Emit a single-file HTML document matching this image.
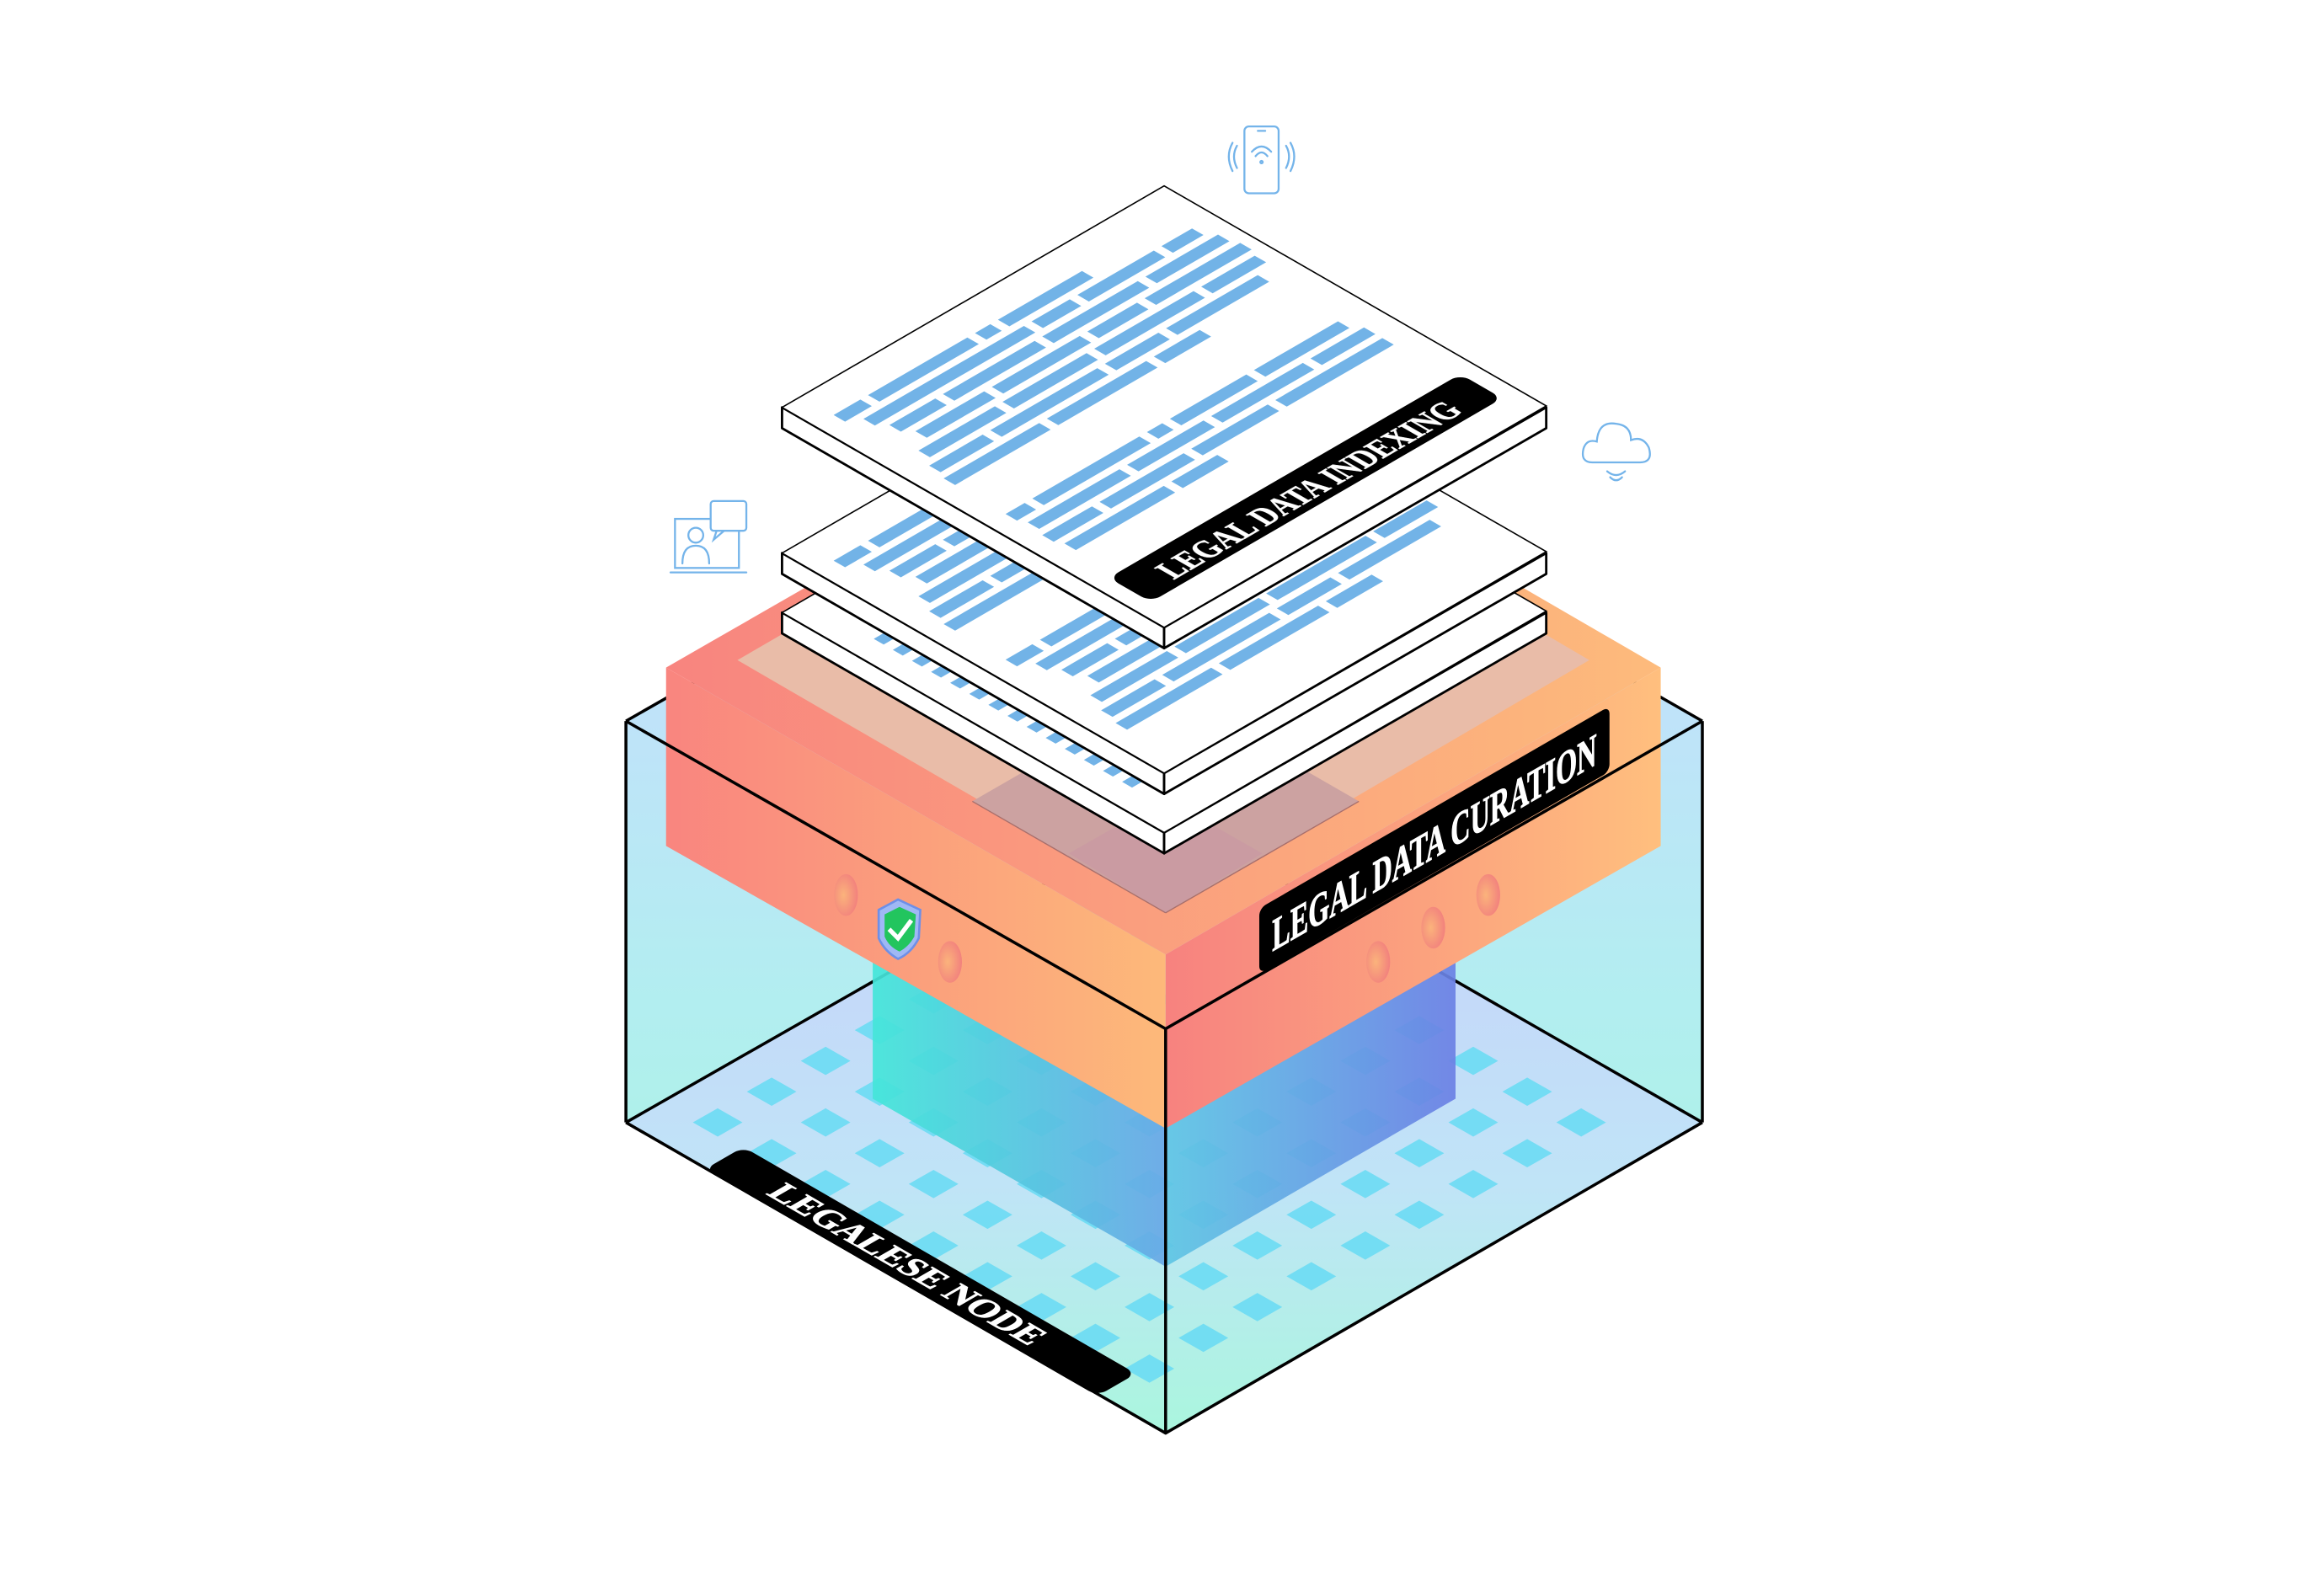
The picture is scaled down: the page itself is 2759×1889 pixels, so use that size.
<!DOCTYPE html>
<html><head><meta charset="utf-8"><style>
html,body{margin:0;padding:0;background:#fff;}
svg{display:block;}
.lbl{font-family:"Liberation Serif",serif;font-weight:bold;fill:#fff;}
</style></head><body>
<svg width="2759" height="1889" viewBox="0 0 1560 1068" xmlns="http://www.w3.org/2000/svg">
<defs>
<linearGradient id="wall" x1="0" y1="486" x2="0" y2="965" gradientUnits="userSpaceOnUse">
<stop offset="0" stop-color="#bfe3f9"/><stop offset="0.4" stop-color="#b2eef0"/><stop offset="1" stop-color="#a6f7da"/></linearGradient>
<linearGradient id="floor" x1="0" y1="549" x2="0" y2="965" gradientUnits="userSpaceOnUse">
<stop offset="0" stop-color="#c8d0fb"/><stop offset="0.6" stop-color="#c0e4f7"/><stop offset="1" stop-color="#aaf6de"/></linearGradient>
<linearGradient id="topg" x1="449" y1="0" x2="1118" y2="0" gradientUnits="userSpaceOnUse">
<stop offset="0" stop-color="#f8847f"/><stop offset="1" stop-color="#fdbb7c"/></linearGradient>
<linearGradient id="leftg" x1="449" y1="0" x2="785" y2="0" gradientUnits="userSpaceOnUse">
<stop offset="0" stop-color="#f9857f"/><stop offset="1" stop-color="#fdb97a"/></linearGradient>
<linearGradient id="rightg" x1="785" y1="0" x2="1118" y2="0" gradientUnits="userSpaceOnUse">
<stop offset="0" stop-color="#f7827f"/><stop offset="1" stop-color="#ffbf7e"/></linearGradient>
<linearGradient id="colL" x1="588" y1="0" x2="785" y2="0" gradientUnits="userSpaceOnUse">
<stop offset="0" stop-color="#44e6d9"/><stop offset="1" stop-color="#68a8e6"/></linearGradient>
<linearGradient id="colR" x1="785" y1="0" x2="980" y2="0" gradientUnits="userSpaceOnUse">
<stop offset="0" stop-color="#5fc6e4"/><stop offset="1" stop-color="#6b80e4"/></linearGradient>
<radialGradient id="bump" cx="0.4" cy="0.5" r="0.6">
<stop offset="0" stop-color="#fbb37c"/><stop offset="1" stop-color="#f2817d"/></radialGradient>
<g id="blk1" fill="#72b3e7">
<rect x="5" y="8.5" width="7" height="3"/><rect x="14" y="8.5" width="26" height="3"/><rect x="42" y="8.5" width="4" height="3"/><rect x="48" y="8.5" width="22" height="3"/>
<rect x="8" y="13.3" width="42" height="3"/><rect x="52" y="13.3" width="10" height="3"/><rect x="64" y="13.3" width="20" height="3"/><rect x="86" y="13.3" width="8" height="3"/>
<rect x="10" y="18.1" width="12" height="3"/><rect x="24" y="18.1" width="24" height="3"/><rect x="50" y="18.1" width="25" height="3"/><rect x="77" y="18.1" width="19" height="3"/>
<rect x="12" y="22.9" width="18" height="3"/><rect x="32" y="22.9" width="23" height="3"/><rect x="57" y="22.9" width="13" height="3"/><rect x="72" y="22.9" width="25" height="3"/>
<rect x="8" y="27.7" width="20" height="3"/><rect x="30" y="27.7" width="22" height="3"/><rect x="54" y="27.7" width="26" height="3"/><rect x="82" y="27.7" width="14" height="3"/>
<rect x="6" y="32.5" width="14" height="3"/><rect x="22" y="32.5" width="28" height="3"/><rect x="52" y="32.5" width="14" height="3"/><rect x="68" y="32.5" width="24" height="3"/>
<rect x="5" y="37.3" width="25" height="3"/><rect x="32" y="37.3" width="26" height="3"/><rect x="60" y="37.3" width="12" height="3"/>
</g>
<g id="blk2" fill="#72b3e7">
<rect x="5" y="53.5" width="5" height="3"/><rect x="12" y="53.5" width="28" height="3"/><rect x="42" y="53.5" width="4" height="3"/><rect x="48" y="53.5" width="20" height="3"/><rect x="70" y="53.5" width="22" height="3"/>
<rect x="6" y="58.3" width="24" height="3"/><rect x="32" y="58.3" width="20" height="3"/><rect x="54" y="58.3" width="24" height="3"/><rect x="80" y="58.3" width="14" height="3"/>
<rect x="5" y="63.1" width="13" height="3"/><rect x="20" y="63.1" width="22" height="3"/><rect x="44" y="63.1" width="20" height="3"/><rect x="66" y="63.1" width="28" height="3"/>
<rect x="6" y="67.9" width="26" height="3"/><rect x="34" y="67.9" width="12" height="3"/>
</g>
</defs>
<g transform="translate(-1,-1) scale(0.998)">
<polygon points="422,486 785,279 1146,486 1146,756 785,965 422,756" fill="url(#wall)"/>
<polygon points="422,756 785,549 1146,756 785,965" fill="url(#floor)"/>
<g fill="#6cdcf4" opacity="0.9" transform="matrix(36.3,20.7,36.3,-20.7,422,756)">
<g id="trow">
<polygon points="0.62,0.62 1.08,0.62 1.08,1.08 0.62,1.08"/>
<polygon points="1.62,0.62 2.08,0.62 2.08,1.08 1.62,1.08"/>
<polygon points="2.62,0.62 3.08,0.62 3.08,1.08 2.62,1.08"/>
<polygon points="3.62,0.62 4.08,0.62 4.08,1.08 3.62,1.08"/>
<polygon points="4.62,0.62 5.08,0.62 5.08,1.08 4.62,1.08"/>
<polygon points="5.62,0.62 6.08,0.62 6.08,1.08 5.62,1.08"/>
<polygon points="6.62,0.62 7.08,0.62 7.08,1.08 6.62,1.08"/>
<polygon points="7.62,0.62 8.08,0.62 8.08,1.08 7.62,1.08"/>
<polygon points="8.62,0.62 9.08,0.62 9.08,1.08 8.62,1.08"/>
</g>
<use href="#trow" transform="translate(0,1)"/><use href="#trow" transform="translate(0,2)"/>
<use href="#trow" transform="translate(0,3)"/><use href="#trow" transform="translate(0,4)"/>
<use href="#trow" transform="translate(0,5)"/><use href="#trow" transform="translate(0,6)"/>
<use href="#trow" transform="translate(0,7)"/><use href="#trow" transform="translate(0,8)"/>
</g>
<g stroke="#000" stroke-width="2" fill="none">
<line x1="422" y1="756" x2="785" y2="549"/><line x1="1146" y1="756" x2="785" y2="549"/>
<line x1="422" y1="486" x2="785" y2="279"/><line x1="1146" y1="486" x2="785" y2="279"/>
</g>
<polygon points="588,600 785,713 785,853 588,740" fill="url(#colL)" opacity="0.92"/>
<polygon points="785,713 980,600 980,740 785,853" fill="url(#colR)" opacity="0.92"/>
<polygon points="449,450 785,643 785,760 449,570" fill="url(#leftg)"/>
<polygon points="785,643 1118,450 1118,570 785,760" fill="url(#rightg)"/>
<polygon points="449,450 785,257 1118,450 785,643" fill="url(#topg)"/>
<polygon points="497,445 785,278 1070,445 785,612" fill="#e9bca8"/>
<polygon points="655,540 785,465 915,540 785,615" fill="#cca2a1"/>
<polygon points="720,575 785,538 850,575 785,615" fill="#c99aa3" opacity="0.8"/>
<line x1="655" y1="540" x2="785" y2="615" stroke="#a86f6c" stroke-width="0.8"/>
<line x1="915" y1="540" x2="785" y2="615" stroke="#a86f6c" stroke-width="0.8"/>
<g fill="url(#bump)">
<ellipse cx="570" cy="603" rx="8" ry="14"/><ellipse cx="640" cy="648" rx="8" ry="14"/>
<ellipse cx="928" cy="648" rx="8" ry="14"/><ellipse cx="965" cy="625" rx="8" ry="14"/><ellipse cx="1002" cy="603" rx="8" ry="14"/>
</g>
<path d="M605,606 L620,613 L619,632 Q614,642 605,646 Q596,641 592,632 L592,613 Z" fill="#9fb8f5" stroke="#6d8fe8" stroke-width="1.5"/>
<path d="M606,611 L617,616 L616,631 Q612,638 606,641 Q599,638 596,631 L596,616 Z" fill="#22c55e"/>
<path d="M599,626 L605,632 L614,620" fill="none" stroke="#fff" stroke-width="3"/>
<g stroke="#000" stroke-width="2" fill="none" stroke-linejoin="round">
<polyline points="422,486 785,693 1146,486"/>
<line x1="785" y1="693" x2="785" y2="965"/>
<line x1="422" y1="486" x2="422" y2="756"/><line x1="1146" y1="486" x2="1146" y2="756"/>
<polyline points="422,756 785,965 1146,756"/>
</g>
<g transform="matrix(0.866,-0.5,0,1,848,612)">
<rect x="0" y="0" width="272" height="44" rx="5" fill="#000"/>
<text class="lbl" x="10" y="34" font-size="31" stroke="#fff" stroke-width="0.6" textLength="252" lengthAdjust="spacingAndGlyphs">LEGAL DATA CURATION</text>
</g>
<g transform="matrix(0.866,0.5,-0.866,0.5,488,780)">
<rect x="0" y="-15" width="305" height="30" rx="7" fill="#000"/>
<text class="lbl" x="40" y="8" font-size="24" stroke="#fff" stroke-width="0.5" textLength="205" lengthAdjust="spacingAndGlyphs">LEGALESE NODE</text>
</g>
<polygon points="527,413 784,561 784,575 527,427" fill="#fff" stroke="#000" stroke-width="1.6" stroke-linejoin="round"/>
<polygon points="784,561 1041,413 1041,427 784,575" fill="#fff" stroke="#000" stroke-width="1.6" stroke-linejoin="round"/>
<g transform="matrix(2.57,-1.49,2.57,1.48,527,413)">
<rect x="0" y="0" width="100" height="100" fill="#fff" stroke="#000" stroke-width="1.6" vector-effect="non-scaling-stroke"/>
<g fill="#72b3e7">
<rect x="6" y="18" width="3" height="2.6"/><rect x="6" y="23" width="3" height="2.6"/><rect x="6" y="28" width="3" height="2.6"/><rect x="6" y="33" width="3" height="2.6"/><rect x="6" y="38" width="3" height="2.6"/><rect x="6" y="43" width="3" height="2.6"/><rect x="6" y="48" width="3" height="2.6"/><rect x="6" y="53" width="3" height="2.6"/><rect x="6" y="58" width="3" height="2.6"/><rect x="6" y="63" width="3" height="2.6"/><rect x="6" y="68" width="3" height="2.6"/><rect x="6" y="73" width="3" height="2.6"/><rect x="6" y="78" width="3" height="2.6"/><rect x="6" y="83" width="3" height="2.6"/>
<rect x="11" y="18" width="6" height="2.6"/><rect x="11" y="28" width="8" height="2.6"/><rect x="11" y="43" width="6" height="2.6"/><rect x="11" y="58" width="8" height="2.6"/><rect x="11" y="73" width="6" height="2.6"/>
</g>
</g>
<polygon points="527,373 784,521 784,535 527,387" fill="#fff" stroke="#000" stroke-width="1.6" stroke-linejoin="round"/>
<polygon points="784,521 1041,373 1041,387 784,535" fill="#fff" stroke="#000" stroke-width="1.6" stroke-linejoin="round"/>
<g transform="matrix(2.57,-1.49,2.57,1.48,527,373)">
<rect x="0" y="0" width="100" height="100" fill="#fff" stroke="#000" stroke-width="1.6" vector-effect="non-scaling-stroke"/>
<use href="#blk1"/>
<use href="#blk1" transform="translate(0,45)"/>
</g>
<polygon points="527,275 784,423 784,437 527,289" fill="#fff" stroke="#000" stroke-width="1.6" stroke-linejoin="round"/>
<polygon points="784,423 1041,275 1041,289 784,437" fill="#fff" stroke="#000" stroke-width="1.6" stroke-linejoin="round"/>
<g transform="matrix(2.57,-1.49,2.57,1.48,527,275)">
<rect x="0" y="0" width="100" height="100" fill="#fff" stroke="#000" stroke-width="1.6" vector-effect="non-scaling-stroke"/>
<use href="#blk1"/>
<use href="#blk2"/>
<rect x="4" y="81.5" width="92" height="11" rx="2.5" fill="#000"/>
<text class="lbl" x="12" y="90.5" font-size="8" stroke="#eee" stroke-width="0.15" textLength="76" lengthAdjust="spacingAndGlyphs" fill="#eee">LEGAL DATA INDEXING</text>
</g>
<g fill="none" stroke="#74b4ea" stroke-width="1.3" stroke-linecap="round">
<rect x="838" y="86" width="23" height="45" rx="3"/>
<line x1="847" y1="89" x2="852" y2="89"/>
<path d="M843,103 Q849.5,96 856,103"/><path d="M845.5,106 Q849.5,101 853.5,106"/><circle cx="849.5" cy="110" r="0.8"/>
<path d="M833,99 Q829,106 833,114"/><path d="M830,97 Q825,106 830,116"/>
<path d="M866,99 Q870,106 866,114"/><path d="M869,97 Q874,106 869,116"/>
<path d="M1072,312 Q1064,312 1066,303 Q1068,296 1075,298 Q1076,284 1088,286 Q1098,287 1098,297 Q1106,294 1110,302 Q1113,312 1104,312 Z"/>
<path d="M1082,318 Q1088,323 1094,318"/><path d="M1084,322 Q1088,326 1092,322"/>
<rect x="455" y="350" width="43" height="33"/>
<rect x="479" y="338" width="24" height="20" rx="2" fill="#fff"/>
<path d="M483,358 L481,364 L488,358"/>
<circle cx="469" cy="361" r="5"/>
<path d="M460,380 Q460,368 469,368 Q478,368 478,380"/>
<path d="M452,386 L503,386"/>
</g>
</g>
</svg>
</body></html>
